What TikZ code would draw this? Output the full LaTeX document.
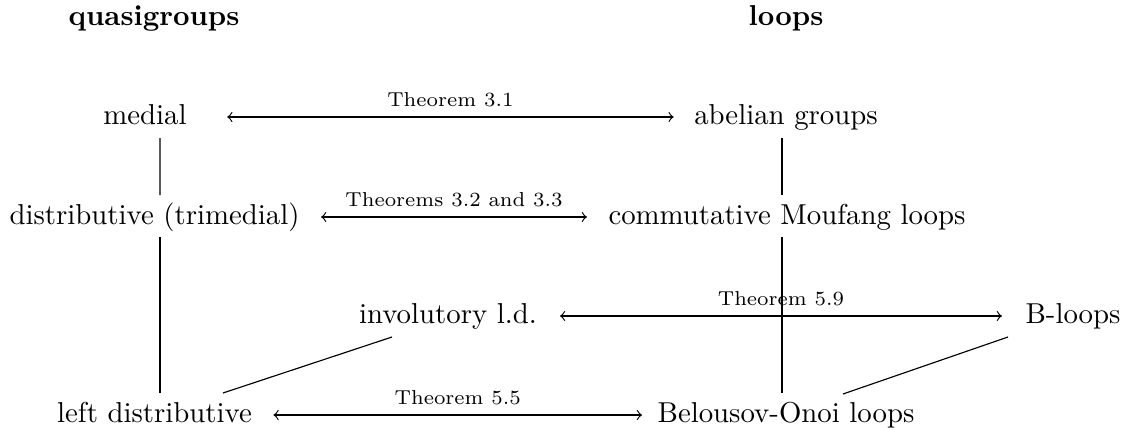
\documentclass[tikz,border=0pt]{standalone}
\begin{document}
\begin{tikzpicture}[x=0.34722pt,y=-0.34722pt,
  item/.style={inner sep=0pt,anchor=base},
  head/.style={inner sep=0pt,anchor=base,font=\bfseries},
  lab/.style={inner sep=0pt,anchor=base,font=\scriptsize,midway,yshift=3.5pt},
  arr/.style={<->},
  link/.style={}]
\useasboundingbox (0,0) rectangle (1125,429);
% headers
\node[head] (hq) at (154,25) {quasigroups};
\node[head] (hl) at (786,25) {loops};
% nodes
\node[item] (medial) at (145,124) {medial};
\node[item] (abel) at (786,124) {abelian groups};
\node[item] (dist) at (154.5,224) {distributive (trimedial)};
\node[item] (cml) at (787,224) {commutative Moufang loops};
\node[item] (invol) at (448,323) {involutory l.d.};
\node[item] (bl) at (1073,323) {B-loops};
\node[item] (ld) at (154.5,422) {left distributive};
\node[item] (bo) at (786,422) {Belousov-Onoi loops};
% vertical and diagonal links
\draw[link] ([shift={(15,14)}]medial.base) -- ([shift={(5.5,-29)}]dist.base);
\draw[link] ([shift={(5.5,13)}]dist.base) -- ([shift={(5.5,-29)}]ld.base);
\draw[link] ([shift={(-56,14)}]invol.base) -- ([shift={(68.5,-29)}]ld.base);
\draw[link] ([shift={(-4,14)}]abel.base) -- ([shift={(-5,-29)}]cml.base);
\draw[link] ([shift={(-5,13)}]cml.base) -- ([shift={(-4,-29)}]bo.base);
\draw[link] ([shift={(-65,14)}]bl.base) -- ([shift={(57,-28)}]bo.base);
% theorem arrows
\draw[arr] ([shift={(40,-7)}]medial.base east) -- ([shift={(-20,-7)}]abel.base west)
  node[lab] {Theorem 3.1};
\draw[arr] ([shift={(21,-7)}]dist.base east) -- ([shift={(-21,-7)}]cml.base west)
  node[lab] {Theorems 3.2 and 3.3};
\draw[arr] ([shift={(22.5,-7)}]invol.base east) -- ([shift={(-23,-7)}]bl.base west)
  node[lab] {Theorem 5.9};
\draw[arr] ([shift={(21,-7)}]ld.base east) -- ([shift={(-15,-7)}]bo.base west)
  node[lab] {Theorem 5.5};
\end{tikzpicture}
\end{document}
